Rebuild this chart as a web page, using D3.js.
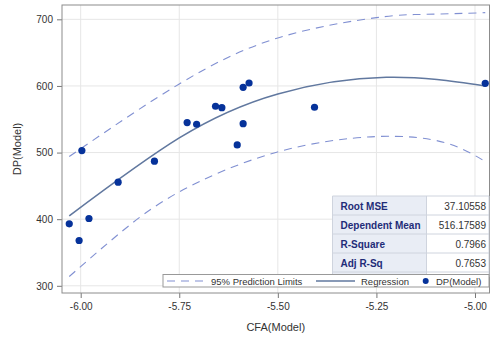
<!DOCTYPE html>
<html>
<head>
<meta charset="utf-8">
<script src="https://cdn.jsdelivr.net/npm/d3@7"></script>
<style>
  body { margin: 0; background: #fff; }
  svg { font-family: "Liberation Sans", Arial, sans-serif; }
</style>
</head>
<body>
<div id="chart"></div>
<script>
// observed points
var cfa = [-6.029, -6.004, -5.997, -5.979, -5.905, -5.813, -5.730, -5.706, -5.658, -5.642, -5.603, -5.588, -5.588, -5.573, -5.407, -4.974];
var dp  = [393, 368, 503, 401, 455.5, 487, 545, 542.5, 569.5, 567.4, 511.5, 598, 543.4, 604.4, 568, 604];

// regression curve
var fitX = [-6.029, -5.75, -5.5, -5.225, -4.974];
var fitY = [405, 522, 588, 613, 600];

// 95% prediction limits
var upX = [-6.029, -5.75, -5.5, -5.25, -5.123, -4.974];
var upY = [494, 603, 672, 702.5, 707.5, 710];
var loX = [-6.029, -5.905, -5.75, -5.503, -5.25, -5.077, -4.974];
var loY = [314, 377, 441, 500.5, 524, 515, 486.5];

var xTicks = [-6, -5.75, -5.5, -5.25, -5];
var yTicks = [300, 400, 500, 600, 700];

var statLabels = ["Root MSE", "Dependent Mean", "R-Square", "Adj R-Sq"];
var statValues = ["37.10558", "516.17589", "0.7966", "0.7653"];

var width = 490, height = 338;
var pL = 62, pR = 489.5, pT = 5, pB = 293;

var svg = d3.select("#chart").append("svg")
    .attr("width", width)
    .attr("height", height);

var x = d3.scaleLinear().domain([-6.0474, -4.9632]).range([pL, pR]);
var y = d3.scaleLinear().domain([289.2, 721.5]).range([pB, pT]);

// grid
svg.append("g").selectAll("line")
  .data(xTicks).enter().append("line")
    .attr("x1", d => x(d)).attr("x2", d => x(d))
    .attr("y1", pT).attr("y2", pB)
    .attr("stroke", "#e6e6e6");
svg.append("g").selectAll("line")
  .data(yTicks).enter().append("line")
    .attr("x1", pL).attr("x2", pR)
    .attr("y1", d => y(d)).attr("y2", d => y(d))
    .attr("stroke", "#e6e6e6");

// axes
var xAxis = svg.append("g")
    .attr("transform", "translate(0," + pB + ")")
    .call(d3.axisBottom(x).tickValues(xTicks).tickSize(5).tickPadding(5)
        .tickFormat(d => d.toFixed(2)));
var yAxis = svg.append("g")
    .attr("transform", "translate(" + pL + ",0)")
    .call(d3.axisLeft(y).tickValues(yTicks).tickSize(5).tickPadding(4)
        .tickFormat(d => d));
[xAxis, yAxis].forEach(function(a){
  a.select(".domain").remove();
  a.selectAll("line").attr("stroke", "#777");
  a.selectAll("text").attr("fill", "#333").style("font-size", "10px")
    .style("font-family", "'Liberation Sans', Arial, sans-serif");
});

// frame
svg.append("rect")
    .attr("x", pL).attr("y", pT)
    .attr("width", pR - pL).attr("height", pB - pT)
    .attr("fill", "none").attr("stroke", "#8c8c8c");

// axis labels
svg.append("text")
    .attr("x", (pL + pR) / 2).attr("y", 331)
    .attr("text-anchor", "middle")
    .style("font-size", "11px").attr("fill", "#333")
    .text("CFA(Model)");
svg.append("text")
    .attr("transform", "translate(21," + (pT + pB) / 2 + ") rotate(-90)")
    .attr("text-anchor", "middle")
    .style("font-size", "11px").attr("fill", "#333")
    .text("DP(Model)");

var line = d3.line().x(d => x(d[0])).y(d => y(d[1])).curve(d3.curveNatural);
var dashColor = "#8190d2";

svg.append("path")
    .attr("d", line(d3.zip(upX, upY)))
    .attr("fill", "none").attr("stroke", dashColor)
    .attr("stroke-width", 1.1).attr("stroke-dasharray", "8,6");
svg.append("path")
    .attr("d", line(d3.zip(loX, loY)))
    .attr("fill", "none").attr("stroke", dashColor)
    .attr("stroke-width", 1.1).attr("stroke-dasharray", "8,6");
svg.append("path")
    .attr("d", line(d3.zip(fitX, fitY)))
    .attr("fill", "none").attr("stroke", "#61789f")
    .attr("stroke-width", 1.6);

// points
svg.append("g").selectAll("circle")
  .data(d3.zip(cfa, dp)).enter().append("circle")
    .attr("cx", d => x(d[0]))
    .attr("cy", d => y(d[1]))
    .attr("r", 3.6)
    .attr("fill", "#06329a");

// stats inset table
var tx = 332.5, tMid = 426.5, tRight = 489, tTop = 196, rowH = 19;
var tbl = svg.append("g");
tbl.append("rect")
    .attr("x", tx).attr("y", tTop)
    .attr("width", tMid - tx).attr("height", rowH * 4 + 5)
    .attr("fill", "#e9edf5");
tbl.append("rect")
    .attr("x", tMid).attr("y", tTop)
    .attr("width", tRight - tMid).attr("height", rowH * 4 + 5)
    .attr("fill", "#fff");
tbl.selectAll("line.row")
  .data(d3.range(5)).enter().append("line")
    .attr("x1", tx).attr("x2", tRight)
    .attr("y1", d => tTop + d * rowH).attr("y2", d => tTop + d * rowH)
    .attr("stroke", "#cfd4de");
tbl.selectAll("line.col")
  .data([tx, tMid, tRight]).enter().append("line")
    .attr("x1", d => d).attr("x2", d => d)
    .attr("y1", tTop).attr("y2", tTop + rowH * 4 + 5)
    .attr("stroke", "#cfd4de");
tbl.selectAll("text.lab")
  .data(statLabels).enter().append("text")
    .attr("x", tx + 8)
    .attr("y", (d, i) => tTop + i * rowH + 13.5)
    .style("font-size", "10px").style("font-weight", "bold")
    .attr("fill", "#1f2c78")
    .text(d => d);
tbl.selectAll("text.val")
  .data(statValues).enter().append("text")
    .attr("x", tRight - 3)
    .attr("y", (d, i) => tTop + i * rowH + 13.5)
    .attr("text-anchor", "end")
    .style("font-size", "10px")
    .attr("fill", "#333")
    .text(d => d);

// legend
var lg = svg.append("g");
lg.append("rect")
    .attr("x", 163).attr("y", 274.5)
    .attr("width", 326).attr("height", 12.5)
    .attr("fill", "#fff").attr("stroke", "#999");
var ly = 281;
lg.append("line")
    .attr("x1", 167).attr("x2", 207).attr("y1", ly).attr("y2", ly)
    .attr("stroke", dashColor).attr("stroke-width", 1.1).attr("stroke-dasharray", "8,6");
lg.append("text").attr("x", 211).attr("y", ly + 3.5)
    .style("font-size", "9.5px").attr("fill", "#333").text("95% Prediction Limits");
lg.append("line")
    .attr("x1", 316).attr("x2", 355).attr("y1", ly).attr("y2", ly)
    .attr("stroke", "#61789f").attr("stroke-width", 1.6);
lg.append("text").attr("x", 361).attr("y", ly + 3.5)
    .style("font-size", "9.5px").attr("fill", "#333").text("Regression");
lg.append("circle").attr("cx", 425.7).attr("cy", ly).attr("r", 3)
    .attr("fill", "#06329a");
lg.append("text").attr("x", 436).attr("y", ly + 3.5)
    .style("font-size", "9.5px").attr("fill", "#333").text("DP(Model)");
</script>
</body>
</html>
